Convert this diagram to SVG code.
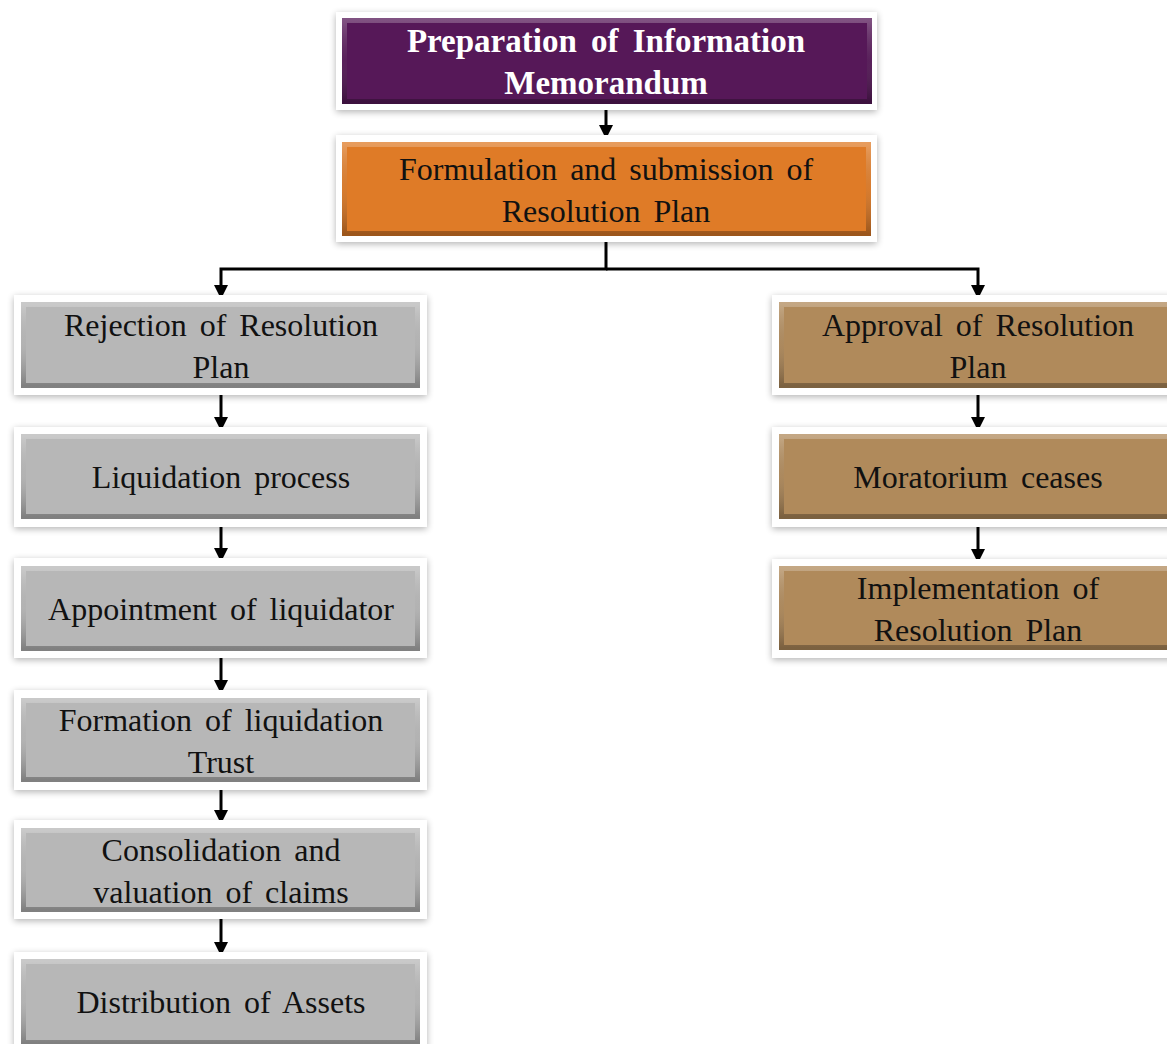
<svg xmlns="http://www.w3.org/2000/svg" width="1167" height="1044" viewBox="0 0 1167 1044">
<style>
.frame{fill:#ffffff;filter:url(#sh);}
.bev{fill:none;stroke:url(#bevel);stroke-width:5;}
.purple{fill:#561858;}
.orange{fill:#DF7B27;}
.gray{fill:#B7B7B7;}
.brown{fill:#B08A5B;}
text{font-family:"Liberation Serif","Times New Roman",serif;font-size:32px;word-spacing:5px;text-anchor:middle;fill:#111111;}
.wt{fill:#ffffff;font-weight:bold;font-size:33px;word-spacing:6px;}
.conn{fill:none;stroke:#000000;stroke-width:3;}
</style>
<defs>
<filter id="sh" x="-5%" y="-10%" width="110%" height="125%">
<feGaussianBlur in="SourceAlpha" stdDeviation="3.5"/>
<feOffset dx="0" dy="2" result="b"/>
<feComponentTransfer><feFuncA type="linear" slope="0.3"/></feComponentTransfer>
<feMerge><feMergeNode/><feMergeNode in="SourceGraphic"/></feMerge>
</filter>
<linearGradient id="bevel" x1="0" y1="0" x2="0" y2="1">
<stop offset="0" stop-color="#ffffff" stop-opacity="0.25"/>
<stop offset="0.5" stop-color="#808080" stop-opacity="0.08"/>
<stop offset="1" stop-color="#000000" stop-opacity="0.3"/>
</linearGradient>
<marker id="ah" viewBox="0 0 10 10" refX="10" refY="5" markerWidth="14" markerHeight="14" markerUnits="userSpaceOnUse" orient="auto">
<path d="M0,0 L10,5 L0,10 z" fill="#000000"/>
</marker>
</defs>
<rect width="1167" height="1044" fill="#ffffff"/>

<g id="connectors">
<line class="conn" x1="606" y1="110" x2="606" y2="139" marker-end="url(#ah)"/>
<polyline class="conn" points="606,242 606,269 221,269 221,299" marker-end="url(#ah)"/>
<polyline class="conn" points="606,269 978,269 978,299" marker-end="url(#ah)"/>
<line class="conn" x1="221" y1="395" x2="221" y2="431" marker-end="url(#ah)"/>
<line class="conn" x1="221" y1="527" x2="221" y2="562" marker-end="url(#ah)"/>
<line class="conn" x1="221" y1="658" x2="221" y2="694" marker-end="url(#ah)"/>
<line class="conn" x1="221" y1="790" x2="221" y2="824" marker-end="url(#ah)"/>
<line class="conn" x1="221" y1="919" x2="221" y2="956" marker-end="url(#ah)"/>
<line class="conn" x1="978" y1="395" x2="978" y2="431" marker-end="url(#ah)"/>
<line class="conn" x1="978" y1="527" x2="978" y2="563" marker-end="url(#ah)"/>
</g>

<g id="n-prep">
<rect class="frame" x="336" y="12" width="541" height="98"/>
<rect class="purple" x="342" y="18" width="530" height="86"/>
<rect class="bev" x="344.5" y="20.5" width="525" height="81"/>
<text class="wt" x="606" y="52">Preparation of Information</text>
<text class="wt" x="606" y="94">Memorandum</text>
</g>

<g id="n-form">
<rect class="frame" x="336" y="135" width="541" height="107"/>
<rect class="orange" x="342" y="142" width="529" height="94"/>
<rect class="bev" x="344.5" y="144.5" width="524" height="89"/>
<text x="606" y="180">Formulation and submission of</text>
<text x="606" y="222">Resolution Plan</text>
</g>

<g id="n-reject">
<rect class="frame" x="14" y="295" width="413" height="100"/>
<rect class="gray" x="21" y="302" width="399" height="86"/>
<rect class="bev" x="23.5" y="304.5" width="394" height="81"/>
<text x="221" y="336">Rejection of Resolution</text>
<text x="221" y="378">Plan</text>
</g>

<g id="n-liq">
<rect class="frame" x="14" y="427" width="413" height="100"/>
<rect class="gray" x="21" y="434" width="399" height="85"/>
<rect class="bev" x="23.5" y="436.5" width="394" height="80"/>
<text x="221" y="488">Liquidation process</text>
</g>

<g id="n-appoint">
<rect class="frame" x="14" y="558" width="413" height="100"/>
<rect class="gray" x="21" y="566" width="399" height="85"/>
<rect class="bev" x="23.5" y="568.5" width="394" height="80"/>
<text x="221" y="620">Appointment of liquidator</text>
</g>

<g id="n-trust">
<rect class="frame" x="14" y="690" width="413" height="100"/>
<rect class="gray" x="21" y="698" width="399" height="84"/>
<rect class="bev" x="23.5" y="700.5" width="394" height="79"/>
<text x="221" y="731">Formation of liquidation</text>
<text x="221" y="773">Trust</text>
</g>

<g id="n-claims">
<rect class="frame" x="14" y="820" width="413" height="99"/>
<rect class="gray" x="21" y="828" width="399" height="84"/>
<rect class="bev" x="23.5" y="830.5" width="394" height="79"/>
<text x="221" y="861">Consolidation and</text>
<text x="221" y="903">valuation of claims</text>
</g>

<g id="n-dist">
<rect class="frame" x="14" y="952" width="413" height="100"/>
<rect class="gray" x="21" y="959" width="399" height="86"/>
<rect class="bev" x="23.5" y="961.5" width="394" height="81"/>
<text x="221" y="1013">Distribution of Assets</text>
</g>

<g id="n-approve">
<rect class="frame" x="772" y="295" width="413" height="100"/>
<rect class="brown" x="779" y="302" width="399" height="86"/>
<rect class="bev" x="781.5" y="304.5" width="394" height="81"/>
<text x="978" y="336">Approval of Resolution</text>
<text x="978" y="378">Plan</text>
</g>

<g id="n-morat">
<rect class="frame" x="772" y="427" width="413" height="100"/>
<rect class="brown" x="779" y="434" width="399" height="85"/>
<rect class="bev" x="781.5" y="436.5" width="394" height="80"/>
<text x="978" y="488">Moratorium ceases</text>
</g>

<g id="n-impl">
<rect class="frame" x="772" y="559" width="413" height="99"/>
<rect class="brown" x="779" y="566" width="399" height="84"/>
<rect class="bev" x="781.5" y="568.5" width="394" height="79"/>
<text x="978" y="599">Implementation of</text>
<text x="978" y="641">Resolution Plan</text>
</g>
</svg>
